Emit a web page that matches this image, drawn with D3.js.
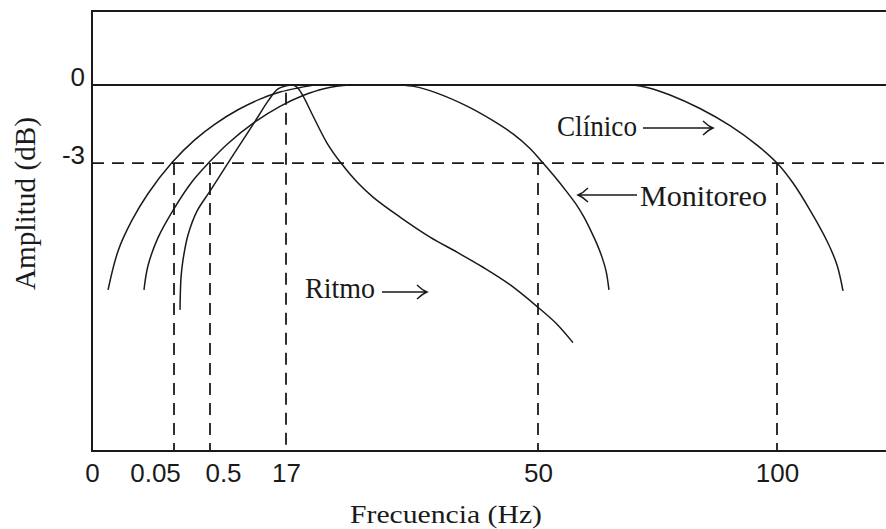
<!DOCTYPE html>
<html>
<head>
<meta charset="utf-8">
<script src="https://d3js.org/d3.v7.min.js"></script>
<style>
  body { margin: 0; background: #fff; }
  svg { display: block; }
</style>
</head>
<body>
<svg id="chart"></svg>
<script>
// tick labels on both axes
var freqTicks = [0, 0.05, 0.5, 17, 50, 100];
var ampTicks = [0, -3];

// cut-off frequencies (Hz) with the level where each dashed line starts (dB)
var cutoffHz = [0.05, 0.5, 17, 50, 100];
var cutoffTop = [-3, -3, -0.3, -3, -3];

// response curves as [Hz, dB]
var clinico = [
  [0.0098, -7.88], [0.0159, -6.38], [0.0244, -5.2], [0.0341, -4.18], [0.0488, -2.98],
  [0.3125, -2.1], [1.586, -1.5], [6.58, -0.95], [11.36, -0.54], [15.7, -0.27],
  [18.44, -0.12], [20.8, 0], [21.6, 0], [69.0, 0], [69.87, 0], [73.01, -0.1],
  [77.62, -0.38], [83.89, -0.9], [90.17, -1.56], [95.82, -2.31], [100, -3.0],
  [103.35, -3.77], [106.9, -4.81], [110.46, -6.0], [112.55, -6.92], [113.81, -7.92]
];
var monitoreo = [
  [0.0317, -7.88], [0.0341, -6.96], [0.0402, -5.88], [0.0494, -4.82], [0.275, -3.72],
  [0.475, -3.02], [4.41, -2.25], [10.27, -1.42], [15.7, -0.82], [19.23, -0.4],
  [22.11, -0.13], [25.38, 0], [26.2, 0], [31.1, 0], [31.93, 0], [33.89, -0.06],
  [36.77, -0.31], [40.7, -0.81], [44.11, -1.37], [46.73, -1.88], [48.95, -2.44],
  [51.05, -3.0], [53.56, -3.54], [56.07, -4.12], [57.95, -4.58], [59.62, -5.08],
  [61.09, -5.62], [62.34, -6.12], [63.39, -6.62], [64.23, -7.15], [64.85, -7.88]
];
var ritmo = [
  [0.125, -8.65], [0.1375, -7.42], [0.1625, -6.73], [0.225, -5.77], [0.3375, -4.85],
  [0.5, -4.08], [4.19, -3.06], [8.1, -1.99], [10.92, -1.22], [13.09, -0.62],
  [15.26, -0.15], [17, -0.03], [17.92, 0], [18.57, -0.12], [19.23, -0.42],
  [20.54, -1.19], [22.37, -2.23], [24.2, -3.0], [26.3, -3.73], [28.39, -4.31],
  [31.93, -5.08], [35.86, -5.85], [39.39, -6.43], [42.8, -7.01], [46.33, -7.68],
  [50, -8.55], [53.97, -9.2], [57.32, -9.91]
];

// set the dimensions and margins of the graph
var margin = {top: 11, right: 0, bottom: 78, left: 92},
    width = 886 - margin.left - margin.right,
    height = 529 - margin.top - margin.bottom;

var ink = "#1a1a1a";
var serif = "'Liberation Serif', 'Times New Roman', serif";
var sans = "'Liberation Sans', Arial, sans-serif";

var svg = d3.select("#chart")
    .attr("width", width + margin.left + margin.right)
    .attr("height", height + margin.top + margin.bottom)
  .append("g")
    .attr("transform", "translate(" + margin.left + "," + margin.top + ")");

// schematic frequency axis: every tick gets its own spot, not proportional
var x = d3.scaleLinear()
    .domain(freqTicks)
    .range([0, 82, 118, 194, 446, 685]);

var y = d3.scaleLinear()
    .domain([-14.08, 2.85])
    .range([height, 0]);

// frame (open on the right)
svg.append("path")
    .attr("d", "M" + width + ",0H0V" + height + "H" + width)
    .attr("fill", "none")
    .attr("stroke", ink)
    .attr("stroke-width", 2);

// 0 dB reference
svg.append("line")
    .attr("x1", 0).attr("x2", width)
    .attr("y1", y(0)).attr("y2", y(0))
    .attr("stroke", ink)
    .attr("stroke-width", 2);

// -3 dB level
svg.append("line")
    .attr("x1", 0).attr("x2", width)
    .attr("y1", y(-3)).attr("y2", y(-3))
    .attr("stroke", ink)
    .attr("stroke-width", 1.8)
    .attr("stroke-dasharray", "12,8");

// cut-off markers
svg.append("g")
  .selectAll("line")
  .data(cutoffHz)
  .enter().append("line")
    .attr("x1", function(d) { return x(d); })
    .attr("x2", function(d) { return x(d); })
    .attr("y1", function(d, i) { return y(cutoffTop[i]); })
    .attr("y2", height)
    .attr("stroke", ink)
    .attr("stroke-width", 1.8)
    .attr("stroke-dasharray", "12,8");

// the three responses
var line = d3.line()
    .x(function(d) { return x(d[0]); })
    .y(function(d) { return y(d[1]); })
    .curve(d3.curveCatmullRom.alpha(0.5));

svg.append("g")
  .selectAll("path")
  .data([clinico, monitoreo, ritmo])
  .enter().append("path")
    .attr("d", line)
    .attr("fill", "none")
    .attr("stroke", ink)
    .attr("stroke-width", 1.5);

// X axis
var xAxis = svg.append("g")
    .attr("transform", "translate(0," + height + ")")
    .call(d3.axisBottom(x).tickValues(freqTicks).tickSize(0).tickFormat(String));
xAxis.select(".domain").remove();
xAxis.selectAll("text")
    .attr("y", 31)
    .attr("dy", 0)
    .attr("dx", function(d) { return d === 0.05 ? -19 : d === 0.5 ? 13 : 0; })
    .attr("font-size", 26)
    .attr("font-family", sans)
    .attr("fill", ink);

// Y axis
var yAxis = svg.append("g")
    .call(d3.axisLeft(y).tickValues(ampTicks).tickSize(0).tickFormat(String));
yAxis.select(".domain").remove();
yAxis.selectAll("text")
    .attr("x", -7)
    .attr("dy", "0.03em")
    .attr("font-size", 26)
    .attr("font-family", sans)
    .attr("fill", ink);

// axis titles
svg.append("text")
    .attr("x", 350 - margin.left)
    .attr("y", 523 - margin.top)
    .attr("font-family", serif)
    .attr("font-size", 25)
    .attr("textLength", 192)
    .attr("lengthAdjust", "spacingAndGlyphs")
    .attr("fill", ink)
    .text("Frecuencia (Hz)");

svg.append("text")
    .attr("transform", "translate(" + (35 - margin.left) + "," + (290 - margin.top) + ") rotate(-90)")
    .attr("font-family", serif)
    .attr("font-size", 29)
    .attr("textLength", 173)
    .attr("lengthAdjust", "spacingAndGlyphs")
    .attr("fill", ink)
    .text("Amplitud (dB)");

// curve labels with their arrows
var labels = [
  {text: "Clínico", x: 557, y: 136, len: 80, arrow: [643, 713, 128]},
  {text: "Monitoreo", x: 640, y: 206, len: 127, arrow: [637, 578, 195]},
  {text: "Ritmo", x: 305, y: 298, len: 70, arrow: [382, 427, 292]}
];

var lab = svg.append("g")
    .attr("transform", "translate(" + (-margin.left) + "," + (-margin.top) + ")");

lab.selectAll("text")
  .data(labels)
  .enter().append("text")
    .attr("x", function(d) { return d.x; })
    .attr("y", function(d) { return d.y; })
    .attr("font-family", serif)
    .attr("font-size", 30)
    .attr("textLength", function(d) { return d.len; })
    .attr("lengthAdjust", "spacingAndGlyphs")
    .attr("fill", ink)
    .text(function(d) { return d.text; });

lab.selectAll("path")
  .data(labels)
  .enter().append("path")
    .attr("d", function(d) {
      var a = d.arrow, dir = a[1] > a[0] ? 1 : -1,
          bx = a[1] - dir * 10;
      return "M" + a[0] + "," + a[2] + "H" + a[1] +
             "M" + bx + "," + (a[2] - 7) + "Q" + (a[1] - dir * 5) + "," + (a[2] - 2) + " " + a[1] + "," + a[2] +
             "Q" + (a[1] - dir * 5) + "," + (a[2] + 2) + " " + bx + "," + (a[2] + 7);
    })
    .attr("fill", "none")
    .attr("stroke", ink)
    .attr("stroke-width", 1.4);
</script>
</body>
</html>
